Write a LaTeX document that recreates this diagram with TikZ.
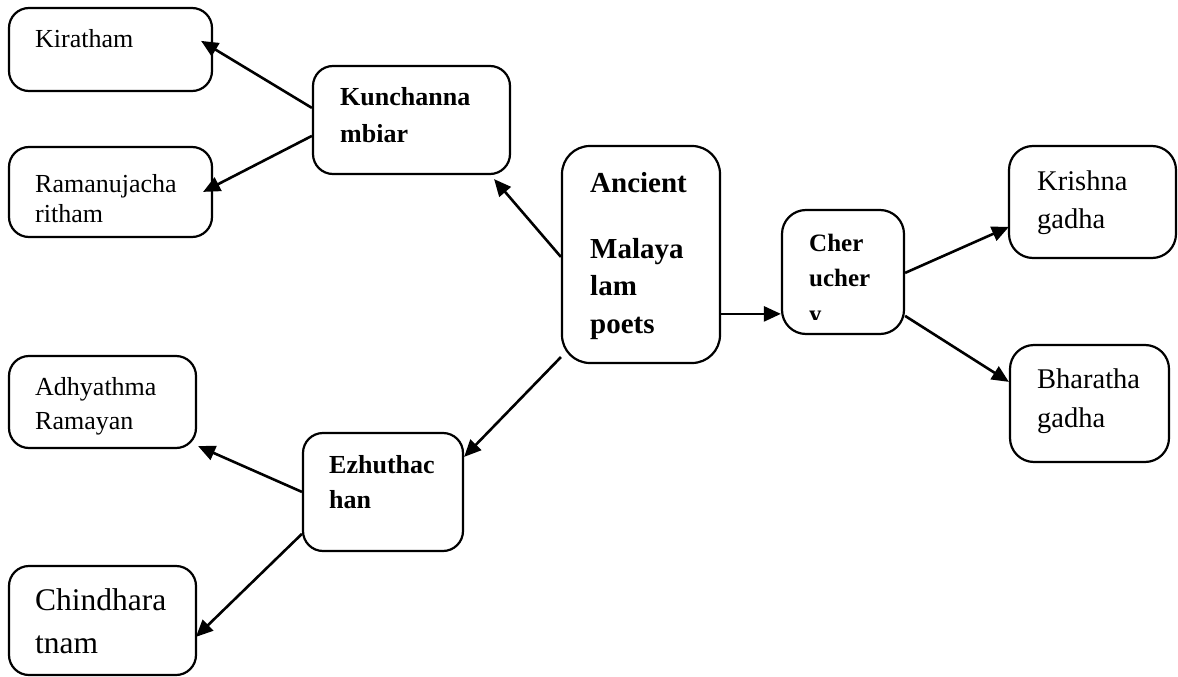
\documentclass[tikz,border=0pt]{standalone}
\usepackage{fontspec}
\setmainfont{Liberation Serif}
\usetikzlibrary{arrows.meta,calc,fit}
\newcommand\fsz[2]{\fontsize{#1}{#2}\selectfont}
\begin{document}
\begin{tikzpicture}[x=1pt,y=-1pt,
  box/.style={draw, line width=2.2pt, rounded corners=20pt, inner sep=0pt},
  lbl/.style={inner sep=0pt, anchor=base west, align=left},
  arr/.style={line width=2.6pt, -{Triangle[length=17pt,width=15pt]}}]
\useasboundingbox (0,0) rectangle (1178,677);

% boxes
\node[box, fit={(9,8) (212,91)}] (kir) {};
\node[box, fit={(9,147) (212,237)}] (ram) {};
\node[box, fit={(313,66) (510,174)}] (kun) {};
\node[box, rounded corners=28pt, fit={(562,146) (720,363)}] (anc) {};
\node[box, rounded corners=24pt, fit={(782,210) (904,334)}] (che) {};
\node[box, rounded corners=24pt, fit={(1009,146) (1176,258)}] (kri) {};
\node[box, rounded corners=24pt, fit={(1010,345) (1169,462)}] (bha) {};
\node[box, fit={(9,356) (196,448)}] (adh) {};
\node[box, fit={(303,433) (463,551)}] (ezh) {};
\node[box, fit={(9,566) (196,675)}] (chi) {};

% labels
\node[lbl, font=\fsz{26}{30}] (kirT) at (35,48) {Kiratham};
\node[lbl, font=\fsz{26}{30}] (ramT) at (35,192) {\vtop{\hbox{Ramanujacha}\hbox{ritham}}};
\node[lbl, font=\bfseries\fsz{26}{36}] (kunT) at (340,106) {\vtop{\hbox{Kunchanna}\hbox{mbiar}}};
\node[lbl, font=\bfseries\fsz{29}{37.5}] (ancT) at (590,192)
  {\vtop{\hbox{Ancient}\vskip 28.5pt\hbox{Malaya}\hbox{lam}\hbox{poets}}};
\begin{scope}
  \clip (che.north west) rectangle ($(che.south east)+(0,-15.5)$);
  \node[lbl, font=\bfseries\fsz{25}{35.5}] (cheT) at (809,251)
    {\vtop{\hbox{Cher}\hbox{ucher}\hbox{y}}};
\end{scope}
\node[lbl, font=\fsz{28.5}{38}] (kriT) at (1037,190) {\vtop{\hbox{Krishna}\hbox{gadha}}};
\node[lbl, font=\fsz{28.5}{39}] (bhaT) at (1037,388) {\vtop{\hbox{Bharatha}\hbox{gadha}}};
\node[lbl, font=\fsz{26}{34}] (adhT) at (35,395) {\vtop{\hbox{Adhyathma}\hbox{Ramayan}}};
\node[lbl, font=\bfseries\fsz{26}{35}] (ezhT) at (329,473) {\vtop{\hbox{Ezhuthac}\hbox{han}}};
\node[lbl, font=\fsz{31.5}{43}] (chiT) at (35,610) {\vtop{\hbox{Chindhara}\hbox{tnam}}};

% connectors
\draw[arr] ($(kun.north west)+(0,43)$) -- ($(kir.north east)+(-12,34)$);
\draw[arr] ($(kun.north west)+(0,71)$) -- ($(ram.north east)+(-10,46)$);
\draw[arr] ($(anc.north west)+(0,112)$) -- ($(kun.south east)+(-17,4)$);
\draw[arr] ($(anc.north east)+(0,169)$) -- ($(che.north west)+(0,105)$);
\draw[arr] ($(anc.south west)+(0,-7)$) -- ($(ezh.north east)+(0,25)$);
\draw[arr] ($(ezh.north west)+(0,60)$) -- ($(adh.south east)+(1,-3)$);
\draw[arr] ($(ezh.north west)+(0,102)$) -- ($(chi.north west)+(188,72)$);
\draw[arr] ($(che.north east)+(0,64)$) -- ($(kri.north west)+(1,82)$);
\draw[arr] ($(che.north east)+(0,107)$) -- ($(bha.north west)+(0,38)$);
\end{tikzpicture}
\end{document}
